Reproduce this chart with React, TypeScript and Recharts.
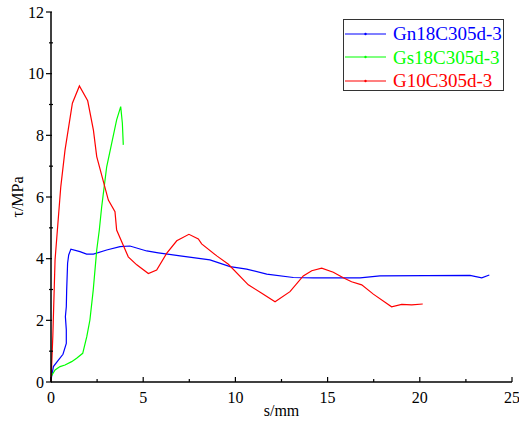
import React from 'react';
import { LineChart, Line, XAxis, YAxis, Legend } from 'recharts';

// --- data (s in mm, tau in MPa) ---
const gnX = [0, 0.13, 0.4, 0.65, 0.83, 0.83, 0.78, 0.83, 0.85, 0.9, 0.96, 1.08, 1.57, 1.93, 2.3, 3.02, 3.74, 4.28, 5.19, 5.82, 7.0, 8.62, 9.71, 10.61, 11.7, 13.14, 14.22, 16.76, 17.84, 22.72, 23.36, 23.77];
const gnY = [0.06, 0.5, 0.71, 0.9, 1.25, 1.69, 2.12, 2.44, 2.98, 3.85, 4.12, 4.31, 4.23, 4.15, 4.15, 4.28, 4.39, 4.41, 4.25, 4.19, 4.09, 3.96, 3.74, 3.66, 3.5, 3.39, 3.38, 3.38, 3.44, 3.46, 3.38, 3.47];

const gsX = [0, 0.22, 0.49, 0.76, 1.12, 1.39, 1.72, 1.94, 2.11, 2.29, 2.48, 2.62, 2.75, 3.02, 3.29, 3.56, 3.78, 3.87, 3.92];
const gsY = [0.17, 0.39, 0.5, 0.55, 0.66, 0.77, 0.93, 1.47, 2.01, 2.98, 4.28, 4.93, 5.69, 6.98, 7.74, 8.5, 8.93, 8.39, 7.69];

const g10X = [0, 0.1, 0.22, 0.53, 0.76, 1.16, 1.54, 1.99, 2.3, 2.48, 3.11, 3.47, 3.56, 4.19, 4.65, 5.28, 5.73, 6.27, 6.82, 7.48, 7.99, 8.17, 8.99, 9.62, 10.7, 11.43, 12.15, 12.96, 13.68, 14.14, 14.68, 15.31, 15.85, 16.3, 16.85, 17.48, 18.47, 19.02, 19.56, 20.16];
const g10Y = [0, 1.5, 3.96, 6.33, 7.52, 9.04, 9.6, 9.12, 8.17, 7.31, 5.9, 5.52, 4.93, 4.06, 3.8, 3.52, 3.63, 4.17, 4.58, 4.79, 4.64, 4.48, 4.09, 3.82, 3.15, 2.88, 2.6, 2.93, 3.44, 3.61, 3.69, 3.56, 3.38, 3.25, 3.15, 2.85, 2.44, 2.52, 2.5, 2.53];

const seriesNames = ['Gn18C305d-3', 'Gs18C305d-3', 'G10C305d-3'];
const seriesColors = ['#0000ff', '#00ff00', '#ff0000'];

const xTicks = [0, 2.5, 5, 7.5, 10, 12.5, 15, 17.5, 20, 22.5, 25];
const xLabels = [0, 5, 10, 15, 20, 25];
const yTicks = [0, 1, 2, 3, 4, 5, 6, 7, 8, 9, 10, 11, 12];
const yLabels = [0, 2, 4, 6, 8, 10, 12];

const FONT = 'Liberation Serif, Tinos, Times New Roman, serif';

const toPoints = (xs: number[], ys: number[]) => xs.map((s, i) => ({ s, tau: ys[i] }));
const seriesData = [toPoints(gnX, gnY), toPoints(gsX, gsY), toPoints(g10X, g10Y)];

// x ticks point inwards, minor ones shorter
const XTick = (props: any) => {
    const { x, y, payload } = props;
    const major = xLabels.includes(payload.value);
    return (
        <g>
            <line x1={x} y1={y} x2={x} y2={y - (major ? 5 : 3)} stroke="#000" strokeWidth={1.2} />
            {major && (
                <text x={x} y={y + 10} dy="0.71em" textAnchor="middle" fill="#000" style={{ fontSize: 16, fontFamily: FONT }}>
                    {payload.value}
                </text>
            )}
        </g>
    );
};

// y ticks: majors outward, minors cross the axis
const YTick = (props: any) => {
    const { x, y, payload } = props;
    const major = yLabels.includes(payload.value);
    return (
        <g>
            <line x1={x - (major ? 5 : 2)} y1={y} x2={x + (major ? 1 : 2)} y2={y} stroke="#000" strokeWidth={1.2} />
            {major && (
                <text x={x - 7} y={y} dy="0.35em" textAnchor="end" fill="#000" style={{ fontSize: 16, fontFamily: FONT }}>
                    {payload.value}
                </text>
            )}
        </g>
    );
};

const YLabel = (props: any) => {
    const { viewBox } = props;
    const cx = 17;
    const cy = viewBox.y + viewBox.height / 2;
    return (
        <text x={cx} y={cy} transform={`rotate(-90, ${cx}, ${cy})`} textAnchor="middle" dominantBaseline="central" fill="#000" style={{ fontSize: 16, fontFamily: FONT }}>
            τ/MPa
        </text>
    );
};

const LegendBox = (props: any) => {
    const items = [...(props.payload || [])].sort(
        (a: any, b: any) => seriesNames.indexOf(a.value) - seriesNames.indexOf(b.value)
    );
    return (
        <div style={{ border: '1.3px solid #333', width: 161, height: 72, boxSizing: 'border-box', background: '#fff', paddingTop: 2, fontFamily: FONT, fontSize: 19 }}>
            {items.map((entry: any) => (
                <div key={entry.value} style={{ display: 'flex', alignItems: 'center', height: 23.5 }}>
                    <svg width={42} height={10} style={{ marginLeft: 1 }}>
                        <line x1={0} y1={5} x2={41} y2={5} stroke={entry.color} strokeWidth={1.2} />
                        <circle cx={20.5} cy={5} r={1.2} fill={entry.color} />
                    </svg>
                    <span style={{ color: entry.color, marginLeft: 6, lineHeight: 1 }}>{entry.value}</span>
                </div>
            ))}
        </div>
    );
};

const App: React.FC = () => {
    return (
        <div style={{ position: 'absolute', left: 0, top: 0, background: '#fff', fontFamily: FONT }}>
            <LineChart width={519} height={423} margin={{ top: 12, right: 7, bottom: 0, left: 0 }}>
                <XAxis
                    dataKey="s"
                    type="number"
                    domain={[0, 25]}
                    ticks={xTicks}
                    interval={0}
                    tickSize={0}
                    tickMargin={0}
                    tickLine={false}
                    tick={<XTick />}
                    height={41}
                    axisLine={{ stroke: '#000', strokeWidth: 1.5 }}
                    allowDuplicatedCategory={false}
                    label={{ value: 's/mm', position: 'insideBottom', offset: 7, fill: '#000', style: { fontSize: 16, fontFamily: FONT } }}
                />
                <XAxis xAxisId="top" orientation="top" type="number" domain={[0, 25]} height={0} tick={false} tickLine={false} axisLine={{ stroke: '#000', strokeWidth: 1.5 }} />
                <YAxis
                    type="number"
                    domain={[0, 12]}
                    ticks={yTicks}
                    interval={0}
                    tickSize={0}
                    tickMargin={0}
                    tickLine={false}
                    tick={<YTick />}
                    width={51}
                    axisLine={{ stroke: '#000', strokeWidth: 1.5 }}
                    label={<YLabel />}
                />
                <YAxis yAxisId="right" orientation="right" type="number" domain={[0, 12]} width={0} tick={false} tickLine={false} axisLine={{ stroke: '#000', strokeWidth: 1.5 }} />
                <Legend
                    layout="vertical"
                    align="center"
                    verticalAlign="middle"
                    content={<LegendBox />}
                    wrapperStyle={{ left: 343, top: 19, width: 161, height: 72 }}
                />
                {seriesData.map((d, i) => (
                    <Line
                        key={seriesNames[i]}
                        data={d}
                        dataKey="tau"
                        name={seriesNames[i]}
                        stroke={seriesColors[i]}
                        strokeWidth={1.2}
                        dot={false}
                        activeDot={false}
                        type="linear"
                        isAnimationActive={false}
                    />
                ))}
            </LineChart>
        </div>
    );
};

export default App;
